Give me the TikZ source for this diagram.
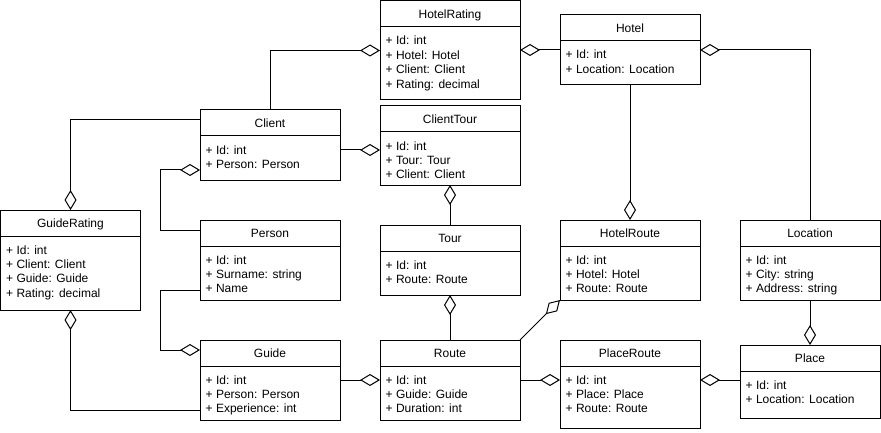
\documentclass[tikz,border=0pt]{standalone}
\usepackage{fontspec}
\setmainfont{Liberation Sans}
\usetikzlibrary{arrows.meta,calc}
\tikzset{
  cls/.style={draw, line width=1pt, minimum width=140pt, inner sep=0pt, outer sep=0pt, fill=white},
  txt/.style={inner sep=0pt, font=\fontsize{12}{14.4}\selectfont},
  agg/.style={line width=1pt, -{Diamond[open,length=20pt,width=12pt]}},
}
\newcommand{\umlbox}[6]{%
  \node[cls, minimum height=#4pt, anchor=north west] (#1) at (#2,#3) {};
  \draw[line width=1pt] (#2,#3+26) -- (#2+140,#3+26);
  \node[txt, anchor=base] (#1-title) at (#2+70,#3+17.5) {#5};
  \foreach \ln [count=\i from 0] in {#6}
    \node[txt, anchor=base west] (#1-l\i) at (#2+5.5,#3+44+14.4*\i) {\ln};
}
\begin{document}
\begin{tikzpicture}[x=1pt,y=-1pt]
\fill[white] (0,0) rectangle (881,433);
\useasboundingbox (0,0) rectangle (881,433);

\umlbox{HotelRating}{380}{1}{99}{HotelRating}{+ Id: int, + Hotel: Hotel, + Client: Client, + Rating: decimal}
\umlbox{Hotel}{560}{15}{70}{Hotel}{+ Id: int, + Location: Location}
\umlbox{Client}{200}{110}{70}{Client}{+ Id: int, + Person: Person}
\umlbox{ClientTour}{380}{106}{79}{ClientTour}{+ Id: int, + Tour: Tour, + Client: Client}
\umlbox{GuideRating}{0.5}{210}{100}{GuideRating}{+ Id: int, + Client: Client, + Guide: Guide, + Rating: decimal}
\umlbox{Person}{200}{220}{80}{Person}{+ Id: int, + Surname: string, + Name}
\umlbox{Tour}{380}{225}{70}{Tour}{+ Id: int, + Route: Route}
\umlbox{HotelRoute}{560}{220}{80}{HotelRoute}{+ Id: int, + Hotel: Hotel, + Route: Route}
\umlbox{Location}{740}{220}{80}{Location}{+ Id: int, + City: string, + Address: string}
\umlbox{Guide}{200}{340}{80}{Guide}{+ Id: int, + Person: Person, + Experience: int}
\umlbox{Route}{380}{340}{80}{Route}{+ Id: int, + Guide: Guide, + Duration: int}
\umlbox{PlaceRoute}{560}{340}{88}{PlaceRoute}{+ Id: int, + Place: Place, + Route: Route}
\umlbox{Place}{740}{345}{73}{Place}{+ Id: int, + Location: Location}

% connectors
\draw[agg] (Client.north) |- (HotelRating.west);
\draw[agg] (Hotel.west) -- (Hotel.west -| HotelRating.east);
\draw[agg] (Location.north) |- (Hotel.east);
\draw[agg] (Hotel.south) -- (HotelRoute.north);
\coordinate (c5) at ([yshift=-5pt]Client.east);
\draw[agg] (c5) -- (c5 -| ClientTour.west);
\draw[agg] (Tour.north) -- (ClientTour.south);
\draw[agg] (Route.north) -- (Tour.south);
\draw[agg] (Route.north east) -- (HotelRoute.south west);
\draw[agg] (Route.east) -- (Route.east -| PlaceRoute.west);
\coordinate (c10) at ([yshift=1.5pt]Place.west);
\draw[agg] (c10) -- (c10 -| PlaceRoute.east);
\draw[agg] (Location.south) -- (Place.north);
\coordinate (c12) at ([yshift=-10pt]Client.north west);
\draw[agg] (c12) -| (GuideRating.north);
\coordinate (c13a) at ([yshift=-60pt]Client.north west);
\coordinate (c13b) at ([yshift=-10pt]Person.north west);
\draw[agg] (c13b) -- ++(-40,0) |- (c13a);
\coordinate (c14a) at ([yshift=-70pt]Person.north west);
\coordinate (c14b) at ([yshift=-10pt]Guide.north west);
\draw[agg] (c14a) -- ++(-40,0) |- (c14b);
\coordinate (c15) at ([yshift=-70pt]Guide.north west);
\draw[agg] (c15) -| (GuideRating.south);
\draw[agg] (Guide.east) -- (Guide.east -| Route.west);
\end{tikzpicture}
\end{document}
